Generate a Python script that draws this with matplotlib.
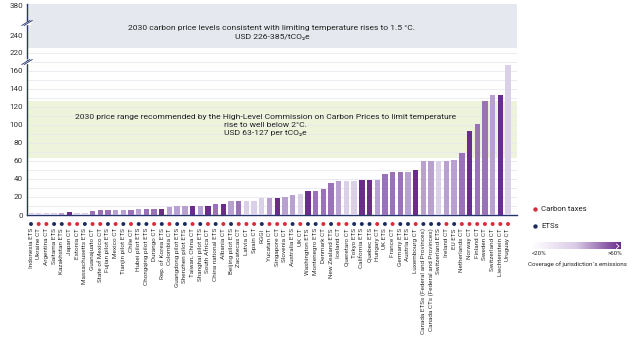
import numpy as np
import matplotlib
matplotlib.use("Agg")
import matplotlib.pyplot as plt
from matplotlib.colors import LinearSegmentedColormap
from matplotlib.transforms import blended_transform_factory
from matplotlib.lines import Line2D

plt.rcParams['font.family'] = ['Roboto', 'DejaVu Sans']

# ---------------- data ----------------
names = ["Indonesia ETS", "Ukraine CT", "Argentina CT", "Saitama ETS", "Kazakhstan ETS",
         "Japan CT", "Estonia CT", "Massachusetts ETS", "Guanajuato CT", "State of Mexico CT",
         "Fujian pilot ETS", "Mexico CT", "Tianjin pilot ETS", "Chile CT", "Hubei pilot ETS",
         "Chongqing pilot ETS", "Durango CT", "Rep. of Korea ETS", "Colombia CT",
         "Guangdong pilot ETS", "Shenzhen pilot ETS", "Taiwan, China CT", "Shanghai pilot ETS",
         "South Africa CT", "China national ETS", "Albania CT", "Beijing pilot ETS",
         "Zacatecas CT", "Latvia CT", "Spain CT", "RGGI", "Yucatan CT", "Singapore CT",
         "Slovenia CT", "Australia ETS", "UK CT", "Washington ETS", "Montenegro ETS",
         "Denmark CT", "New Zealand ETS", "Iceland CT", "Queretaro CT", "Tokyo ETS",
         "California ETS", "Quebec ETS", "Hungary CT", "UK ETS", "France CT", "Germany ETS",
         "Austria ETS", "Luxembourg CT", "Canada ETSs (Federal and Provinces)",
         "Canada CTs (Federal and Provinces)", "Switzerland ETS", "Ireland CT", "EU ETS",
         "Netherlands CT", "Norway CT", "Finland CT", "Sweden CT", "Switzerland CT",
         "Liechtenstein CT", "Uruguay CT"]

prices = [2.0, 2.0, 2.0, 2.0, 2.2, 3.0, 2.2, 2.2, 4.0, 5.0,
          5.0, 5.0, 6.0, 6.0, 6.7, 6.7, 6.7, 7.0, 8.5, 9.5,
          9.5, 9.5, 9.7, 9.7, 12.5, 12.5, 15.0, 15.0, 15.5, 15.5,
          18.5, 18.5, 18.5, 19.5, 22.0, 23.5, 26.5, 26.5, 28.5, 35.5,
          37.2, 37.2, 37.2, 39.0, 39.0, 39.0, 45.0, 47.8, 47.8, 47.8,
          50.0, 59.5, 59.5, 59.5, 60.2, 61.5, 69.0, 93.0, 100.5, 127.0,
          133.0, 133.0, 166.0]

# coverage class: 0 (<20%) ... 3 (>60%)
coverage = [0, 0, 0, 0, 1, 3, 0, 0, 2, 2,
            2, 1, 1, 2, 1, 2, 2, 3, 1, 1,
            1, 3, 1, 3, 2, 3, 1, 2, 0, 0,
            0, 1, 3, 1, 1, 0, 3, 2, 2, 2,
            1, 0, 0, 3, 3, 1, 2, 2, 2, 1,
            3, 1, 1, 0, 1, 1, 2, 3, 2, 2,
            1, 3, 0]

band_15 = (226, 385)
band_2 = (63, 127)

shade_colors = ["#dad0e7", "#b8a1d1", "#9a72b8", "#6a2d8c"]
ct_color = "#d92b3a"
ets_color = "#1b2b5e"
navy = "#24356b"

# ---------------- figure ----------------
fig = plt.figure(figsize=(6.4, 3.42), dpi=100)
PX, PY = 640.0, 342.0
L = 27 / PX
W = (517 - 27) / PX
ax = fig.add_axes([L, 1 - 215 / PY, W, (215 - 60) / PY])
axt = fig.add_axes([L, 1 - 58 / PY, W, (58 - 4) / PY])

n = len(names)
x = np.arange(n)
colors = [shade_colors[c] for c in coverage]

# bottom axes
ax.axhspan(band_2[0], band_2[1], color="#eef3dc", zorder=0, lw=0)
ax.bar(x, prices, width=0.7, color=colors, zorder=3)
ax.set_xlim(-0.52, n - 1 + 1.17)
ax.set_ylim(0, 172)
ax.set_yticks(np.arange(0, 161, 20))
ax.set_yticks(np.arange(0, 171, 10), minor=True)
ax.grid(axis='y', which='both', color="#e7e9f0", lw=0.6, zorder=1)
ax.set_axisbelow(True)
for s in ['top', 'right']:
    ax.spines[s].set_visible(False)
for s in ['left', 'bottom']:
    ax.spines[s].set_color(navy)
    ax.spines[s].set_linewidth(1.0)
ax.tick_params(axis='y', which='both', length=0, labelsize=5.8, labelcolor="#333333", pad=3)
ax.set_xticks(x)
ax.set_xticklabels(names, rotation=90, fontsize=4.6, color="#333333")
ax.tick_params(axis='x', length=0, pad=9.5)

ax.text((n - 1) / 2 - 0.5, 100,
        "2030 price range recommended by the High-Level Commission on Carbon Prices to limit temperature\n"
        "rise to well below 2°C.\nUSD 63-127 per tCO\u2082e",
        ha='center', va='center', fontsize=6.1, color="#222222", linespacing=1.45, zorder=5)

# dots under the axis
tr = blended_transform_factory(ax.transData, ax.transAxes)
dot_cols = [ct_color if nm.endswith("CT") else ets_color for nm in names]
ax.scatter(x, [-9 / 155] * n, s=8, c=dot_cols, transform=tr, clip_on=False, zorder=5, lw=0)

# top axes (broken, compressed above 240)
c = 0.24
def fwd(v):
    v = np.asarray(v, dtype=float)
    return np.where(v <= 240, v, 240 + (v - 240) * c)
def inv(v):
    v = np.asarray(v, dtype=float)
    return np.where(v <= 240, v, 240 + (v - 240) / c)
axt.set_yscale('function', functions=(fwd, inv))
axt.set_ylim(214.4, band_15[1])
axt.set_xlim(ax.get_xlim())
axt.axhspan(band_15[0], band_15[1], color="#e5e9ef", zorder=0, lw=0)
axt.axhline(220, color="#e7e9f0", lw=0.6, zorder=1)
axt.set_yticks([220, 240, 380])
axt.set_yticklabels(["220", "240", "380"])
axt.set_xticks([])
axt.tick_params(axis='y', length=0, labelsize=5.8, labelcolor="#333333", pad=3)
for s in ['top', 'right', 'bottom']:
    axt.spines[s].set_visible(False)
axt.spines['left'].set_color(navy)
axt.spines['left'].set_linewidth(1.0)
axt.text(0.5, 0.47,
         "2030 carbon price levels consistent with limiting temperature rises to 1.5 °C.\n"
         "USD 226-385/tCO\u2082e",
         transform=axt.transAxes, ha='center', va='center', fontsize=6.1,
         color="#222222", linespacing=1.6)

# overlay in pixel coordinates for decorations
ov = fig.add_axes([0, 0, 1, 1], zorder=10)
ov.set_xlim(0, PX)
ov.set_ylim(PY, 0)
ov.axis('off')
ov.patch.set_alpha(0)

for yb in (23, 62):
    ov.add_patch(plt.Rectangle((24, yb - 1.2), 6, 2.4, color="white", zorder=1))
    for dx in (-1.2, 1.2):
        ov.add_line(Line2D([23 + dx, 31 + dx], [yb + 2.5, yb - 2.5], color=navy, lw=0.6, zorder=2))

# legend
ov.scatter([535], [209], s=10, c=ct_color, lw=0)
ov.text(541, 209, "Carbon taxes", fontsize=5.6, va='center', ha='left', color="#222222")
ov.scatter([535], [226], s=10, c=ets_color, lw=0)
ov.text(541, 226, "ETSs", fontsize=5.6, va='center', ha='left', color="#222222")

cmap = LinearSegmentedColormap.from_list("cov", ["#ffffff", "#d9c9e6", shade_colors[3]])
grad = np.linspace(0, 1, 256).reshape(1, -1)
ov.imshow(grad, cmap=cmap, extent=(532, 621, 249.5, 243), aspect='auto')
ov.add_line(Line2D([616.5, 619, 616.5], [244, 246.2, 248.5], color="white", lw=0.6))
ov.set_xlim(0, PX)
ov.set_ylim(PY, 0)
ov.text(532, 253.5, "<20%", fontsize=4.4, ha='left', va='center', color="#222222")
ov.text(622, 253.5, ">60%", fontsize=4.4, ha='right', va='center', color="#222222")
ov.text(577, 264, "Coverage of jurisdiction\u00b4s emissions", fontsize=4.4, ha='center',
        va='center', color="#222222")

fig.savefig("out.png", dpi=100)
